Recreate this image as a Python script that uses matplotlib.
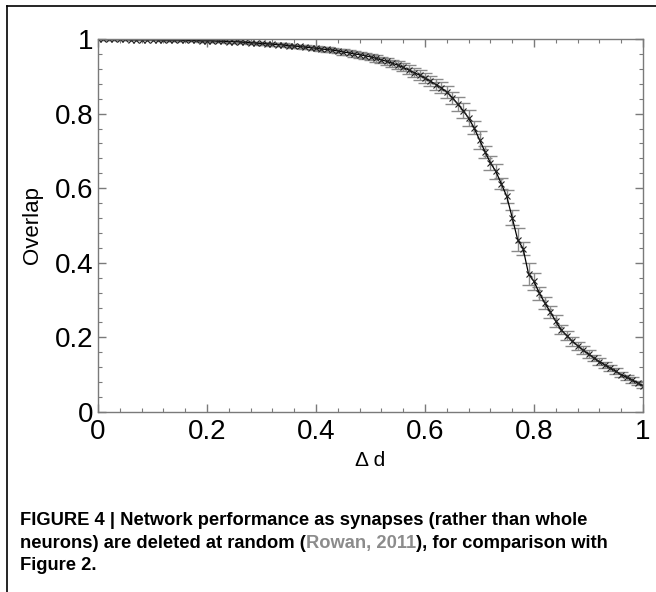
import numpy as np
import matplotlib
matplotlib.use("Agg")
import matplotlib.pyplot as plt
from matplotlib.lines import Line2D
from matplotlib.ticker import MultipleLocator

plt.rcParams['font.family'] = ['Liberation Sans', 'DejaVu Sans']

# deletion fraction and mean overlap
delta_d = [i / 100 for i in range(101)]
overlap = [1.000, 0.999, 0.999, 0.999, 0.999, 0.999, 0.998, 0.998, 0.998, 0.998, 0.998,
           0.998, 0.997, 0.997, 0.997, 0.997, 0.996, 0.996, 0.996, 0.995, 0.995,
           0.995, 0.994, 0.994, 0.993, 0.993, 0.992, 0.991, 0.990, 0.989, 0.988,
           0.987, 0.986, 0.985, 0.984, 0.982, 0.981, 0.980, 0.978, 0.977, 0.975,
           0.973, 0.972, 0.970, 0.968, 0.965, 0.963, 0.960, 0.958, 0.955, 0.952,
           0.948, 0.944, 0.940, 0.935, 0.930, 0.924, 0.917, 0.910, 0.903, 0.895,
           0.887, 0.878, 0.869, 0.858, 0.843, 0.826, 0.808, 0.788, 0.762, 0.730,
           0.698, 0.668, 0.645, 0.612, 0.578, 0.521, 0.462, 0.438, 0.370, 0.350,
           0.318, 0.292, 0.268, 0.243, 0.220, 0.205, 0.190, 0.178, 0.166, 0.155,
           0.145, 0.135, 0.126, 0.118, 0.109, 0.100, 0.093, 0.086, 0.078, 0.070]
err = [0.001, 0.001, 0.001, 0.001, 0.001, 0.001, 0.001, 0.001, 0.001, 0.001, 0.001,
       0.002, 0.002, 0.002, 0.002, 0.002, 0.002, 0.002, 0.002, 0.002, 0.002,
       0.002, 0.002, 0.002, 0.003, 0.003, 0.003, 0.003, 0.003, 0.003, 0.003,
       0.003, 0.004, 0.004, 0.004, 0.004, 0.004, 0.005, 0.005, 0.005, 0.005,
       0.005, 0.006, 0.006, 0.006, 0.007, 0.007, 0.007, 0.008, 0.008, 0.008,
       0.009, 0.009, 0.010, 0.010, 0.011, 0.011, 0.012, 0.012, 0.013, 0.013,
       0.014, 0.014, 0.015, 0.016, 0.016, 0.018, 0.020, 0.022, 0.018, 0.024,
       0.016, 0.018, 0.020, 0.015, 0.018, 0.020, 0.030, 0.018, 0.030, 0.022,
       0.018, 0.016, 0.015, 0.016, 0.012, 0.013, 0.012, 0.011, 0.010, 0.010,
       0.009, 0.009, 0.008, 0.008, 0.008, 0.007, 0.007, 0.007, 0.006, 0.006]
tick_vals = [0, 0.2, 0.4, 0.6, 0.8, 1.0]
tick_labels = ['0', '0.2', '0.4', '0.6', '0.8', '1']

W, H = 656, 592
fig = plt.figure(figsize=(W / 100, H / 100), dpi=100)
ax = fig.add_axes([98 / W, 1 - 412 / H, 545 / W, 373 / H])

ax.errorbar(delta_d, overlap, yerr=err, fmt='none', ecolor='#8a8a8a',
            elinewidth=1.0, capsize=5, capthick=1.0)
ax.plot(delta_d, overlap, '-', color='black', linewidth=0.9,
        marker='x', markersize=4, markeredgewidth=0.8, markeredgecolor='#222222')

ax.set_xlim(0, 1)
ax.set_ylim(0, 1)
ax.xaxis.set_minor_locator(MultipleLocator(0.04))
ax.yaxis.set_minor_locator(MultipleLocator(0.04))
ax.set_xticks(tick_vals, tick_labels)
ax.set_yticks(tick_vals, tick_labels)
for s in ax.spines.values():
    s.set_color('#7a7a7a')
    s.set_linewidth(1.0)
ax.tick_params(which='both', direction='in', top=True, right=True,
               color='#7a7a7a', labelsize=20)
ax.tick_params(which='major', length=6, width=1.0)
ax.tick_params(axis='x', which='major', pad=5)
ax.tick_params(axis='y', which='major', pad=3)
ax.tick_params(which='minor', length=3, width=0.8)

ax.set_xlabel('Δ d', fontsize=15)
ax.set_ylabel('Overlap', fontsize=16)
ax.xaxis.set_label_coords(0.5, (412 - 461) / 373)
ax.yaxis.set_label_coords((33 - 98) / 545, 0.5)
ax.xaxis.label.set_va('center')
ax.yaxis.label.set_va('center')

# frame lines of the page
fig.add_artist(Line2D([7 / W, 7 / W], [0, 1 - 6 / H], transform=fig.transFigure,
                      color='black', linewidth=1.2))
fig.add_artist(Line2D([7 / W, 1], [1 - 6 / H, 1 - 6 / H], transform=fig.transFigure,
                      color='black', linewidth=1.2))

cap_font = dict(fontsize=13.2, fontweight='bold', family=['Liberation Sans', 'DejaVu Sans'])
x0 = 20 / W
fig.text(x0, 1 - 525 / H, 'FIGURE 4 | Network performance as synapses (rather than whole',
         va='baseline', **cap_font)

renderer = fig.canvas.get_renderer()
y2 = 1 - 548 / H
pieces = [('neurons) are deleted at random (', 'black'),
          ('Rowan, 2011', '#8c8c8c'),
          ('), for comparison with', 'black')]
xp = x0
for txt, col in pieces:
    t = fig.text(xp, y2, txt, va='baseline', color=col, **cap_font)
    bb = t.get_window_extent(renderer)
    xp = bb.x1 / fig.bbox.width

fig.text(x0, 1 - 570 / H, 'Figure 2.', va='baseline', **cap_font)

fig.savefig('out.png', dpi=100)
